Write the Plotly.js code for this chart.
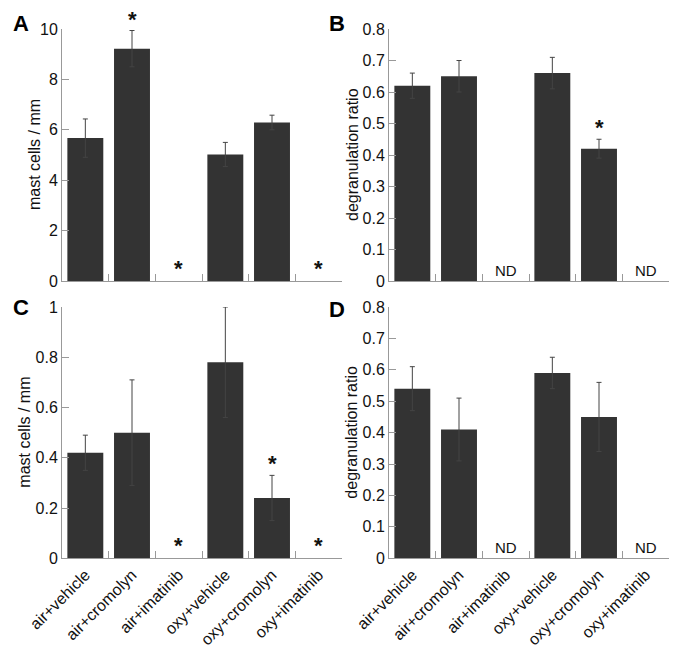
<!DOCTYPE html>
<html>
<head>
<meta charset="utf-8">
<script src="https://cdn.plot.ly/plotly-3.0.1.min.js"></script>
<style>html,body{margin:0;padding:0;background:#fff;} #chart{width:685px;height:651px;}</style>
</head>
<body>
<div id="chart"></div>
<script>
var categories = ['air+vehicle','air+cromolyn','air+imatinib','oxy+vehicle','oxy+cromolyn','oxy+imatinib'];

var aVals = [5.67, 9.22, null, 5.02, 6.29, null];
var aErr  = [0.76, 0.72, null, 0.48, 0.29, null];
var aMarks = ['', '*', '*', '', '', '*'];

var bVals = [0.62, 0.65, null, 0.66, 0.42, null];
var bErr  = [0.04, 0.05, null, 0.05, 0.03, null];
var bMarks = ['', '', 'ND', '', '*', 'ND'];

var cVals = [0.42, 0.50, null, 0.78, 0.24, null];
var cErr  = [0.07, 0.21, null, 0.22, 0.09, null];
var cMarks = ['', '', '*', '', '*', '*'];

var dVals = [0.54, 0.41, null, 0.59, 0.45, null];
var dErr  = [0.07, 0.10, null, 0.05, 0.11, null];
var dMarks = ['', '', 'ND', '', '', 'ND'];

var panelLetters = ['A', 'B', 'C', 'D'];
var yTitles = ['mast cells / mm', 'degranulation ratio', 'mast cells / mm', 'degranulation ratio'];

var FONT = 'Liberation Sans, Arial, Helvetica, sans-serif';
var BAR = '#333333';
var AX = '#999999';

function barTrace(vals, errs, xa, ya) {
  return {
    type: 'bar', x: categories, y: vals, xaxis: xa, yaxis: ya,
    marker: {color: BAR, line: {width: 0}},
    error_y: {type: 'data', array: errs, visible: true, color: '#444444', thickness: 1, width: 2.5},
    hoverinfo: 'skip', showlegend: false
  };
}

var traces = [
  barTrace(aVals, aErr, 'x', 'y'),
  barTrace(bVals, bErr, 'x2', 'y2'),
  barTrace(cVals, cErr, 'x3', 'y3'),
  barTrace(dVals, dErr, 'x4', 'y4')
];

function xAxis(domain, anchor, showLabels) {
  return {
    domain: domain, anchor: anchor, type: 'category',
    range: [-0.5, 5.5], fixedrange: true, automargin: false,
    showline: true, linecolor: AX, linewidth: 1,
    ticks: 'inside', tickson: 'boundaries', ticklen: 7, tickcolor: AX, tickwidth: 1,
    showgrid: false, zeroline: false,
    showticklabels: showLabels, tickangle: -45,
    tickfont: {family: FONT, size: 16, color: '#111'}
  };
}
function yAxis(domain, anchor, range, dtick) {
  return {
    domain: domain, anchor: anchor, range: range, dtick: dtick, tick0: 0,
    showline: true, linecolor: AX, linewidth: 1,
    ticks: 'inside', ticklen: 7, tickcolor: AX, tickwidth: 1,
    showgrid: false, zeroline: false, automargin: false,
    tickfont: {family: FONT, size: 16, color: '#111'}
  };
}

var xL = [62/685, 342/685], xR = [389/685, 669/685];
var yT = [1 - 281/651, 1 - 29/651], yB = [1 - 558.3/651, 1 - 307/651];

var annotations = [];
function addMarks(marks, vals, errs, xref, yref) {
  for (var i = 0; i < marks.length; i++) {
    if (!marks[i]) continue;
    var top = (vals[i] || 0) + (errs[i] || 0);
    var isND = marks[i] === 'ND';
    annotations.push({
      xref: xref, yref: yref, x: categories[i], y: top,
      text: isND ? marks[i] : '<b>' + marks[i] + '</b>', showarrow: false, yanchor: 'bottom',
      yshift: isND ? 0 : (top > 0 ? -3 : -2),
      font: {family: FONT, size: isND ? 15 : 22, color: '#111'}
    });
  }
}
addMarks(aMarks, aVals, aErr, 'x', 'y');
addMarks(bMarks, bVals, bErr, 'x2', 'y2');
addMarks(cMarks, cVals, cErr, 'x3', 'y3');
addMarks(dMarks, dVals, dErr, 'x4', 'y4');

var letterPos = [[21, 24], [337, 24], [21, 307], [337, 309]];
for (var k = 0; k < panelLetters.length; k++) {
  annotations.push({
    xref: 'paper', yref: 'paper', x: letterPos[k][0]/685, y: 1 - letterPos[k][1]/651,
    xanchor: 'center', yanchor: 'middle', showarrow: false,
    text: '<b>' + panelLetters[k] + '</b>',
    font: {family: FONT, size: 22, color: '#000'}
  });
}

// y-axis titles (rotated text)
var titleX = [34, 352, 25, 352];
var titleRefs = ['y domain', 'y2 domain', 'y3 domain', 'y4 domain'];
for (var t = 0; t < yTitles.length; t++) {
  annotations.push({
    xref: 'paper', yref: titleRefs[t], x: titleX[t]/685, y: 0.5,
    xanchor: 'center', yanchor: 'middle', showarrow: false, textangle: -90,
    text: yTitles[t],
    font: {family: FONT, size: 16, color: '#111'}
  });
}

var layout = {
  width: 685, height: 651,
  margin: {l: 0, r: 0, t: 0, b: 0},
  paper_bgcolor: '#fff', plot_bgcolor: '#fff',
  font: {family: FONT, color: '#111'},
  bargap: 0.23,
  xaxis: xAxis(xL, 'y', false),
  yaxis: yAxis(yT, 'x', [0, 10], 2),
  xaxis2: xAxis(xR, 'y2', false),
  yaxis2: yAxis(yT, 'x2', [0, 0.8], 0.1),
  xaxis3: xAxis(xL, 'y3', true),
  yaxis3: yAxis(yB, 'x3', [0, 1], 0.2),
  xaxis4: xAxis(xR, 'y4', true),
  yaxis4: yAxis(yB, 'x4', [0, 0.8], 0.1),
  annotations: annotations
};

Plotly.newPlot('chart', traces, layout, {staticPlot: true, displayModeBar: false});
</script>
</body>
</html>
